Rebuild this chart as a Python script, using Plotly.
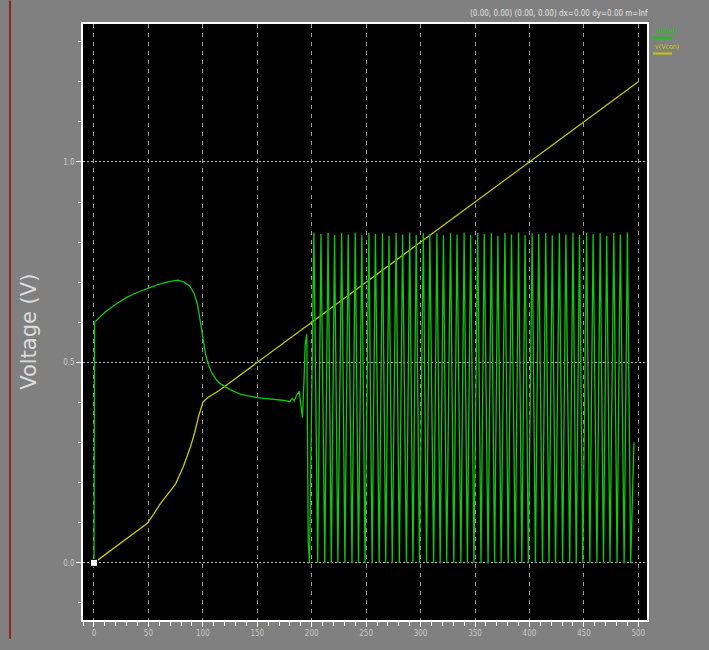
import plotly.graph_objects as go

# ---------------- data ----------------
# v(Vout): start-up portion
vout_x_pre = [0, 0.5, 5, 10, 20, 30, 40, 50, 60, 70, 77, 83, 88, 92, 95, 97.5, 100,
              102.5, 105, 108, 112, 116, 125, 135, 150, 165, 175, 180, 182, 184, 186,
              188.5, 190, 191.5, 193, 194, 195.5, 196.8]
vout_y_pre = [0, 0.600, 0.612, 0.625, 0.645, 0.662, 0.675, 0.686, 0.695, 0.702, 0.705,
              0.700, 0.690, 0.672, 0.645, 0.605, 0.560, 0.520, 0.495, 0.475, 0.458,
              0.447, 0.432, 0.420, 0.412, 0.408, 0.405, 0.402, 0.410, 0.404, 0.418,
              0.428, 0.400, 0.362, 0.460, 0.545, 0.570, 0.050]

# v(Vout): oscillation portion (trough / peak vertices)
vout_x_osc = [198, 202, 205.5, 208.5, 212, 215, 218, 221, 224, 227.5, 230.5, 233.5,
              237, 240, 243, 246, 249, 252.5, 255.5, 258.5, 262, 265, 268, 271, 274,
              277.5, 280.5, 283.5, 287, 290, 293, 296, 299, 302.5, 305.5, 308.5, 312,
              315, 318, 321, 324, 327.5, 330.5, 333.5, 337, 340, 343, 346, 349, 352.5,
              355.5, 358.5, 362, 365, 368, 371, 374, 377.5, 380.5, 383.5, 387, 390,
              393, 396, 399, 402.5, 405.5, 408.5, 412, 415, 418, 421, 424, 427.5,
              430.5, 433.5, 437, 440, 443, 446, 449, 452.5, 455.5, 458.5, 462, 465,
              468, 471, 474, 477.5, 480.5, 483.5, 487, 490, 493, 496, 499, 500]
vout_y_osc = [0.0, 0.824, 0.0, 0.820, 0.0, 0.823, 0.0, 0.818, 0.0, 0.822, 0.0, 0.819,
              0.0, 0.824, 0.0, 0.817, 0.0, 0.823, 0.0, 0.820, 0.0, 0.822, 0.0, 0.816,
              0.0, 0.823, 0.0, 0.819, 0.0, 0.824, 0.0, 0.818, 0.0, 0.822, 0.0, 0.820,
              0.0, 0.823, 0.0, 0.817, 0.0, 0.822, 0.0, 0.819, 0.0, 0.824, 0.0, 0.818,
              0.0, 0.823, 0.0, 0.820, 0.0, 0.822, 0.0, 0.816, 0.0, 0.823, 0.0, 0.819,
              0.0, 0.824, 0.0, 0.818, 0.0, 0.822, 0.0, 0.820, 0.0, 0.823, 0.0, 0.817,
              0.0, 0.822, 0.0, 0.819, 0.0, 0.824, 0.0, 0.818, 0.0, 0.823, 0.0, 0.820,
              0.0, 0.822, 0.0, 0.816, 0.0, 0.823, 0.0, 0.819, 0.0, 0.824, 0.0, 0.30]

# v(Vcon): ramp
vcon_x = [0, 42, 49, 55, 61, 68, 75, 82, 89, 93, 96, 100.3, 105, 115, 500]
vcon_y = [0, 0.085, 0.099, 0.122, 0.148, 0.172, 0.197, 0.240, 0.292, 0.330, 0.365,
          0.402, 0.413, 0.430, 1.200]

cursor_x = [0]
cursor_y = [0]

x_tick_vals = [0, 50, 100, 150, 200, 250, 300, 350, 400, 450, 500]
x_tick_text = ["0", "50", "100", "150", "200", "250", "300", "350", "400", "450", "500"]
y_tick_vals = [0.0, 0.5, 1.0]
y_tick_text = ["0.0", "0.5", "1.0"]

series_names = ["v(Vout)", "v(Vcon)"]
series_colors = ["#10c810", "#c8c800"]

header_text = "(0.00, 0.00) (0.00, 0.00) dx=0.00 dy=0.00 m=Inf"
y_title = "Voltage (V)"

# ---------------- figure ----------------
W, H = 709, 650
L, R, T, B = 83, 62, 24, 20
pw, ph = W - L - R, H - T - B

def px_to_paper_x(px):
    return (px - L) / pw

def px_to_paper_y(py):
    return (H - B - py) / ph

fig = go.Figure()

fig.add_trace(go.Scatter(x=vcon_x, y=vcon_y, mode="lines",
                         line=dict(color=series_colors[1], width=1.3),
                         name=series_names[1], showlegend=False, hoverinfo="skip"))
fig.add_trace(go.Scatter(x=vout_x_pre + vout_x_osc, y=vout_y_pre + vout_y_osc,
                         mode="lines", line=dict(color=series_colors[0], width=1.3),
                         name=series_names[0], showlegend=False, hoverinfo="skip"))
fig.add_trace(go.Scatter(x=cursor_x, y=cursor_y, mode="markers",
                         marker=dict(symbol="square", size=7, color="white",
                                     line=dict(color="black", width=1)),
                         showlegend=False, hoverinfo="skip"))

narrow = "Liberation Sans Narrow, DejaVu Sans Condensed, sans-serif"
tick_font = dict(family=narrow, size=8, color="#c8c8c8")

fig.update_xaxes(range=[-10.1, 508], tickmode="array", tickvals=x_tick_vals,
                 ticktext=x_tick_text, ticks="outside", ticklen=5, tickcolor="white",
                 showline=True, linecolor="white", linewidth=1.5, mirror=True,
                 showgrid=True, gridcolor="#9a9a9a", gridwidth=1, griddash="4px,5px",
                 zeroline=False, tickfont=tick_font,
                 minor=dict(dtick=10, tick0=0, ticks="outside", ticklen=4,
                            tickcolor="white", showgrid=False))
fig.update_yaxes(range=[-0.1425, 1.344], tickmode="array", tickvals=y_tick_vals,
                 ticktext=y_tick_text, ticks="outside", ticklen=5, tickcolor="white",
                 showline=True, linecolor="white", linewidth=1.5, mirror=True,
                 showgrid=True, gridcolor="#bdbdbd", gridwidth=1, griddash="2px,2px",
                 zeroline=False, tickfont=tick_font,
                 minor=dict(dtick=0.1, tick0=0, ticks="outside", ticklen=3,
                            tickcolor="white", showgrid=False))

annotations = [
    dict(text=header_text, xref="paper", yref="paper",
         x=px_to_paper_x(650), y=px_to_paper_y(13), xanchor="right", yanchor="middle",
         showarrow=False, font=dict(family=narrow, size=8, color="#e0e0e0")),
    dict(text=y_title, xref="paper", yref="paper", textangle=-90,
         x=px_to_paper_x(29), y=px_to_paper_y(337), xanchor="center", yanchor="middle",
         showarrow=False,
         font=dict(family="DejaVu Sans, Verdana, sans-serif", size=21, color="#dcdcdc")),
]
legend_rows = [31, 47]
for name, col, ry in zip(series_names, series_colors, legend_rows):
    annotations.append(dict(text=name, xref="paper", yref="paper",
                            x=px_to_paper_x(653), y=px_to_paper_y(ry),
                            xanchor="left", yanchor="middle", showarrow=False,
                            font=dict(family=narrow, size=7, color=col)))

shapes = [
    dict(type="line", xref="paper", yref="paper",
         x0=px_to_paper_x(10), x1=px_to_paper_x(10), y0=px_to_paper_y(649), y1=px_to_paper_y(0),
         line=dict(color="#a00000", width=1.5)),
]
for col, ry in zip(series_colors, legend_rows):
    shapes.append(dict(type="line", xref="paper", yref="paper",
                       x0=px_to_paper_x(653), x1=px_to_paper_x(672),
                       y0=px_to_paper_y(ry + 7), y1=px_to_paper_y(ry + 7),
                       line=dict(color=col, width=2)))

# size comes from the (fixed, 709x650) container div below
fig.update_layout(margin=dict(l=L, r=R, t=T, b=B, pad=0),
                  paper_bgcolor="#808080", plot_bgcolor="black",
                  annotations=annotations, shapes=shapes, showlegend=False)

page_fix = (
    "document.documentElement.style.margin='0';"
    "document.body.style.margin='0';document.body.style.padding='0';"
    "document.body.style.overflow='hidden';document.body.style.background='#808080';"
)

fig.write_html("out.html",
               config={"displayModeBar": False},
               default_width=f"{W}px",
               default_height=f"{H}px; position:fixed; left:0px; top:0px",
               post_script=page_fix)
